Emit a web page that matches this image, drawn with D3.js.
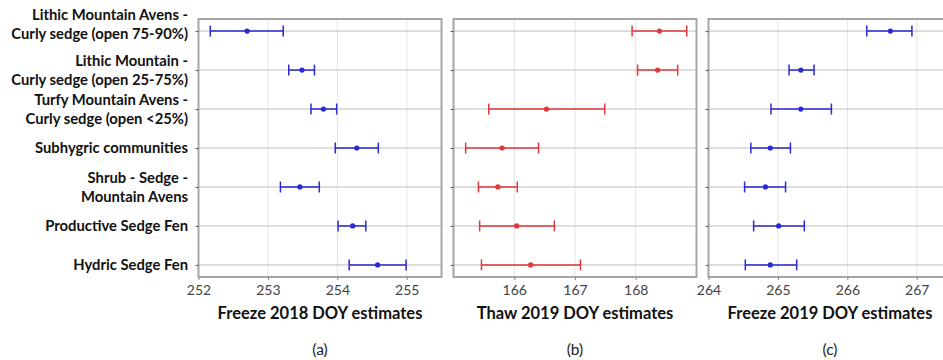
<!DOCTYPE html>
<html>
<head>
<meta charset="utf-8">
<script src="https://cdn.jsdelivr.net/npm/d3@7"></script>
<style>
  body { margin: 0; background: #fff; }
  svg { display: block; font-family: Lato, "Open Sans", sans-serif; }
</style>
</head>
<body>
<div class="chart"></div>
<script>
const categories = [
  ['Lithic Mountain Avens -', 'Curly sedge (open 75-90%)'],
  ['Lithic Mountain -', 'Curly sedge (open 25-75%)'],
  ['Turfy Mountain Avens -', 'Curly sedge (open <25%)'],
  ['Subhygric communities'],
  ['Shrub - Sedge -', 'Mountain Avens'],
  ['Productive Sedge Fen'],
  ['Hydric Sedge Fen']
];

// mean, lower, upper per category
const freeze2018Mean = [252.70, 253.49, 253.80, 254.28, 253.46, 254.22, 254.58];
const freeze2018Low  = [252.17, 253.30, 253.62, 253.97, 253.18, 254.01, 254.17];
const freeze2018High = [253.22, 253.67, 253.99, 254.59, 253.74, 254.41, 254.99];

const thaw2019Mean = [168.39, 168.36, 166.53, 165.80, 165.73, 166.04, 166.27];
const thaw2019Low  = [167.94, 168.03, 165.58, 165.20, 165.41, 165.43, 165.46];
const thaw2019High = [168.84, 168.69, 167.49, 166.40, 166.05, 166.66, 167.09];

const freeze2019Mean = [266.62, 265.33, 265.33, 264.89, 264.82, 265.01, 264.89];
const freeze2019Low  = [266.28, 265.16, 264.90, 264.61, 264.52, 264.65, 264.53];
const freeze2019High = [266.93, 265.52, 265.77, 265.18, 265.11, 265.38, 265.27];

const freeze2018Ticks = [252, 253, 254, 255];
const thaw2019Ticks = [166, 167, 168];
const freeze2019Ticks = [264, 265, 266, 267];

const panels = [
  { title: 'Freeze 2018 DOY estimates', tag: '(a)', domain: [252, 255.5], ticks: freeze2018Ticks,
    mean: freeze2018Mean, low: freeze2018Low, high: freeze2018High, color: '#2a2ad2', x0: 198.5, x1: 441.5 },
  { title: 'Thaw 2019 DOY estimates', tag: '(b)', domain: [165, 169], ticks: thaw2019Ticks,
    mean: thaw2019Mean, low: thaw2019Low, high: thaw2019High, color: '#e2383d', x0: 453.5, x1: 696.5 },
  { title: 'Freeze 2019 DOY estimates', tag: '(c)', domain: [264, 267.5], ticks: freeze2019Ticks,
    mean: freeze2019Mean, low: freeze2019Low, high: freeze2019High, color: '#2a2ad2', x0: 708.5, x1: 951.5 }
];

const width = 943, height = 360;
const plotTop = 19, plotBottom = 277;

const svg = d3.select('.chart').append('svg')
  .attr('width', width)
  .attr('height', height);

const y = d3.scalePoint()
  .domain(d3.range(categories.length))
  .range([plotTop, plotBottom])
  .padding(0.31);

// row labels
const labels = svg.append('g').attr('class', 'row-labels');
categories.forEach((lines, i) => {
  const lh = 19;
  let cy = y(i) - (lines.length - 1) * lh / 2;
  if (i === 0) cy -= 7;
  const t = labels.append('text')
    .attr('text-anchor', 'end')
    .attr('font-weight', 'bold')
    .attr('font-size', 14.8)
    .attr('fill', '#111');
  lines.forEach((s, k) => {
    t.append('tspan')
      .attr('x', 188)
      .attr('y', cy + k * lh)
      .attr('dy', '0.35em')
      .text(s);
  });
});

panels.forEach(p => {
  const x = d3.scaleLinear().domain(p.domain).range([p.x0, p.x1]);
  const g = svg.append('g');

  // vertical grid
  g.append('g').selectAll('line')
    .data(p.ticks.filter(t => x(t) > p.x0 + 2))
    .enter().append('line')
    .attr('x1', d => x(d)).attr('x2', d => x(d))
    .attr('y1', plotTop).attr('y2', plotBottom)
    .attr('stroke', '#e3e3e3').attr('stroke-width', 1);

  // horizontal grid at each row
  g.append('g').selectAll('line')
    .data(d3.range(categories.length))
    .enter().append('line')
    .attr('x1', p.x0).attr('x2', p.x1)
    .attr('y1', d => y(d)).attr('y2', d => y(d))
    .attr('stroke', '#bdbdbd').attr('stroke-width', 1);

  // frame
  g.append('rect')
    .attr('x', p.x0).attr('y', plotTop)
    .attr('width', p.x1 - p.x0).attr('height', plotBottom - plotTop)
    .attr('fill', 'none')
    .attr('stroke', '#a6a6a6').attr('stroke-width', 2);

  // x axis
  const xAxis = g.append('g')
    .attr('transform', `translate(0,${plotBottom})`)
    .call(d3.axisBottom(x).tickValues(p.ticks).tickSize(3).tickPadding(5).tickFormat(d3.format('d')));
  xAxis.select('.domain').remove();
  xAxis.selectAll('line').attr('stroke', '#888');
  xAxis.selectAll('text').attr('font-size', 14).attr('fill', '#444')
    .attr('font-family', 'Lato, "Open Sans", sans-serif');

  // y ticks
  const yAxis = g.append('g')
    .attr('transform', `translate(${p.x0},0)`)
    .call(d3.axisLeft(y).tickSize(3).tickFormat(''));
  yAxis.select('.domain').remove();
  yAxis.selectAll('line').attr('stroke', '#555');

  // error bars
  const rows = d3.range(categories.length);
  const bars = g.append('g').attr('stroke', p.color).attr('stroke-width', 1.5);
  bars.selectAll('.whisker').data(rows).enter().append('line')
    .attr('x1', i => x(p.low[i])).attr('x2', i => x(p.high[i]))
    .attr('y1', i => y(i)).attr('y2', i => y(i));
  bars.selectAll('.cap-low').data(rows).enter().append('line')
    .attr('x1', i => x(p.low[i])).attr('x2', i => x(p.low[i]))
    .attr('y1', i => y(i) - 5.5).attr('y2', i => y(i) + 5.5);
  bars.selectAll('.cap-high').data(rows).enter().append('line')
    .attr('x1', i => x(p.high[i])).attr('x2', i => x(p.high[i]))
    .attr('y1', i => y(i) - 5.5).attr('y2', i => y(i) + 5.5);
  g.append('g').selectAll('circle').data(rows).enter().append('circle')
    .attr('cx', i => x(p.mean[i])).attr('cy', i => y(i))
    .attr('r', 2.6).attr('fill', p.color);

  const cx = (p.x0 + Math.min(p.x1, 951.5)) / 2;
  g.append('text')
    .attr('x', cx).attr('y', 313).attr('dy', '0.35em')
    .attr('text-anchor', 'middle')
    .attr('font-weight', 'bold').attr('font-size', 16.5)
    .attr('fill', '#111')
    .text(p.title);

  g.append('text')
    .attr('x', cx).attr('y', 350).attr('dy', '0.35em')
    .attr('text-anchor', 'middle')
    .attr('font-size', 15.5).attr('fill', '#222')
    .text(p.tag);
});
</script>
</body>
</html>
